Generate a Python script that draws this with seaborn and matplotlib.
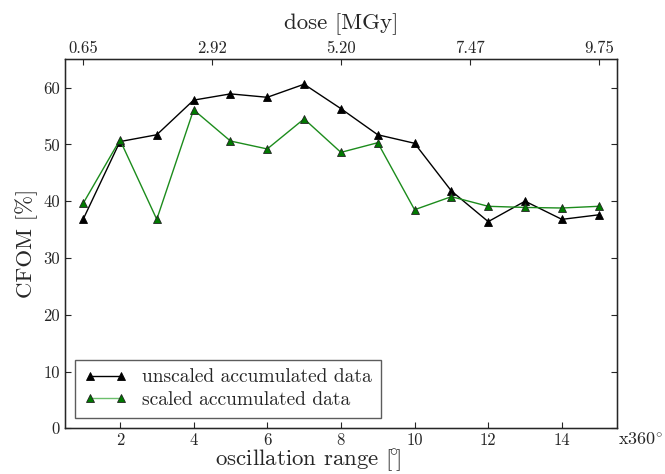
import matplotlib
matplotlib.use("Agg")
import matplotlib.pyplot as plt
import seaborn as sns
import pandas as pd

# data
oscillation = [1, 2, 3, 4, 5, 6, 7, 8, 9, 10, 11, 12, 13, 14, 15]
unscaled = [36.8, 50.5, 51.7, 57.8, 58.9, 58.3, 60.6, 56.3, 51.7, 50.2, 41.8, 36.4, 40.0, 36.8, 37.6]
scaled = [39.6, 50.8, 36.8, 56.1, 50.6, 49.2, 54.5, 48.6, 50.3, 38.5, 40.8, 39.1, 38.9, 38.8, 39.1]
dose_ticks = [0.65, 2.925, 5.20, 7.475, 9.75]
dose_labels = ["0.65", "2.92", "5.20", "7.47", "9.75"]
dose_per_turn = 0.65
x_ticks = [2, 4, 6, 8, 10, 12, 14]
y_ticks = [0, 10, 20, 30, 40, 50, 60]

sns.set_style("ticks")
plt.rcParams['font.family'] = ['cmr10', 'DejaVu Serif']
plt.rcParams['mathtext.fontset'] = 'cm'
plt.rcParams['axes.unicode_minus'] = False

fig = plt.figure(figsize=(6.65, 4.74), dpi=100)
ax = fig.add_axes([0.0973, 0.0964, 0.8307, 0.7786])

df = pd.DataFrame({"x": oscillation, "unscaled": unscaled, "scaled": scaled})
sns.lineplot(data=df, x="x", y="unscaled", ax=ax, color="black", marker="^",
             markersize=6, markerfacecolor="black", markeredgecolor="black",
             markeredgewidth=0.6, linewidth=1.0, label="unscaled accumulated data")
sns.lineplot(data=df, x="x", y="scaled", ax=ax, color="#1c8c1c", marker="^",
             markersize=6, markerfacecolor="#007a00", markeredgecolor="#222222",
             markeredgewidth=0.6, linewidth=1.0, label="scaled accumulated data")

ax.set_xlim(0.5, 15.5)
ax.set_ylim(0, 65)
ax.set_xticks(x_ticks)
ax.set_yticks(y_ticks)
ax.tick_params(direction="in", length=4, width=0.8, labelsize=12, right=True, top=False)
ax.set_xlabel("oscillation range [$\\!^{\\circ}\\!$]", fontsize=16.5)
ax.xaxis.set_label_coords(0.44, -0.052)
ax.set_ylabel("CFOM [%]", fontsize=16.5, labelpad=4)
for s in ax.spines.values():
    s.set_linewidth(1.0)
    s.set_color("black")

ax.text(1.002, -0.008, "x360$^{\\circ}$", transform=ax.transAxes, fontsize=13,
        ha="left", va="top")

ax2 = ax.twiny()
ax2.set_xlim(ax.get_xlim())
ax2.set_xticks([d / dose_per_turn for d in dose_ticks])
ax2.set_xticklabels(dose_labels)
ax2.tick_params(direction="in", length=4, width=0.8, labelsize=12, pad=2)
ax2.set_xlabel("dose [MGy]", fontsize=16.5, labelpad=9)

leg = ax.legend(loc="lower left", numpoints=2, fontsize=14, fancybox=False,
                frameon=True, borderaxespad=0.53, handlelength=2.2,
                handletextpad=0.8, labelspacing=0.25, borderpad=0.45)
leg.get_frame().set_edgecolor("#333333")
leg.get_frame().set_linewidth(1.0)
leg.get_lines()[1].set_color("#6cbf6c")

fig.savefig("out.png", dpi=100)
